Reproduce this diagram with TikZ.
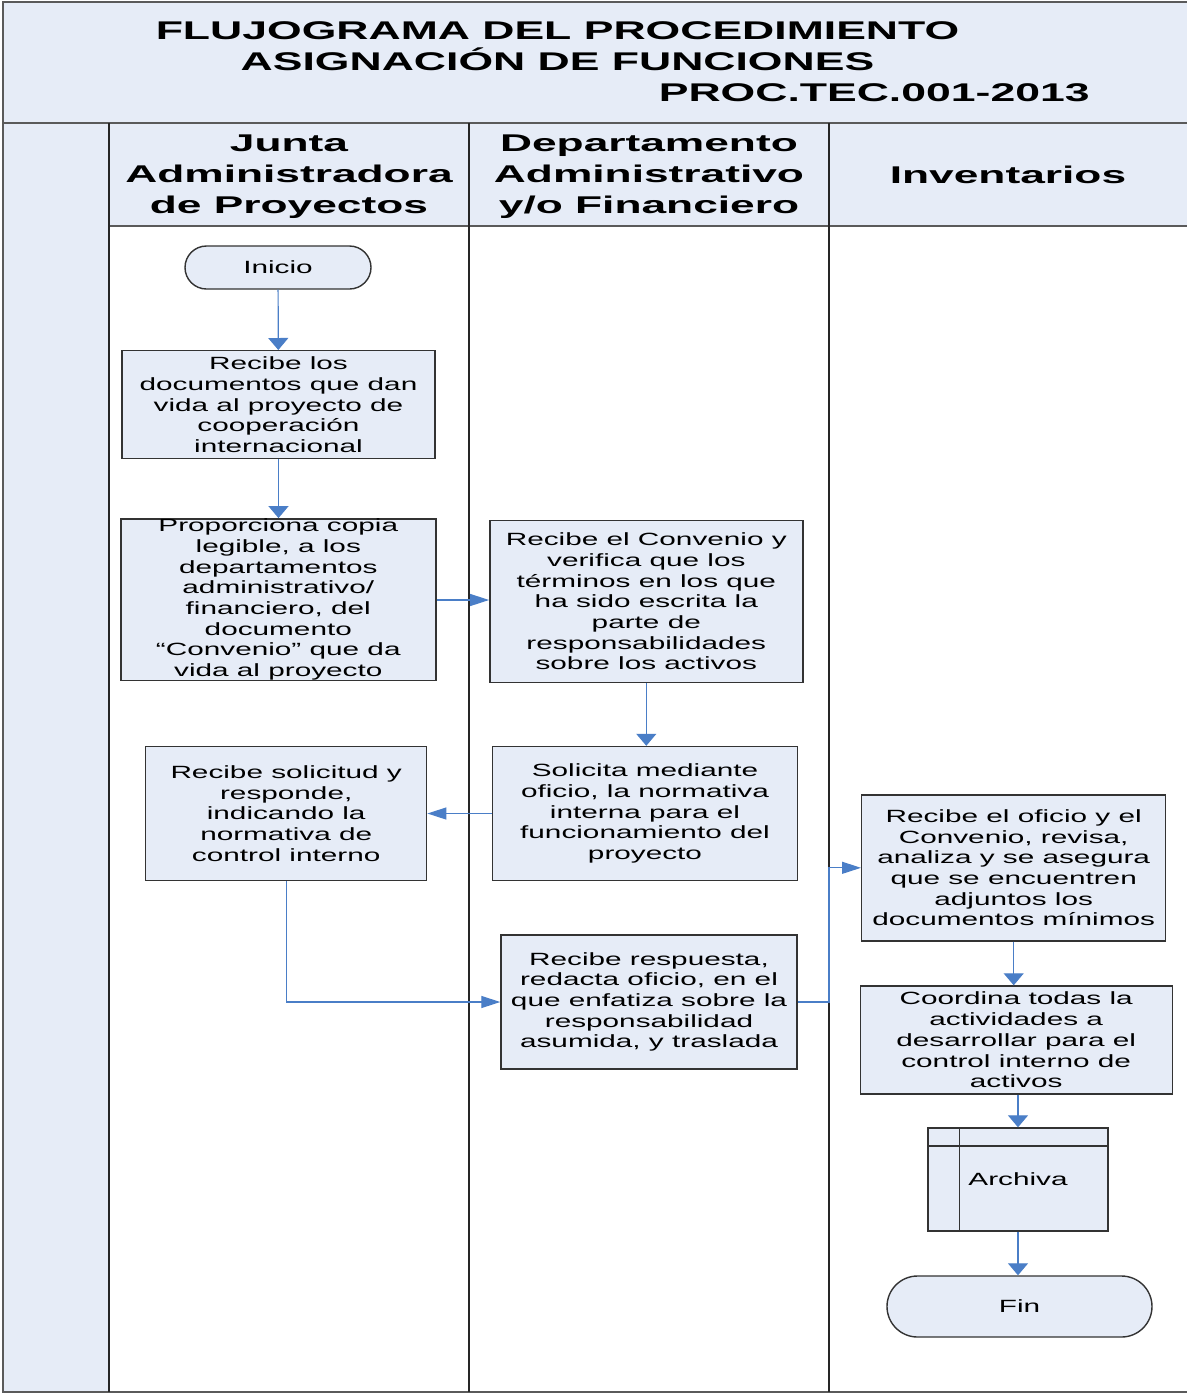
\documentclass[tikz,border=0pt]{standalone}
\usepackage{fontspec}
\setmainfont{Liberation Sans}[FakeStretch=1.68]
\newfontfamily\lanefont{Liberation Sans}[FakeStretch=1.83]
\newfontfamily\bannerfont{Liberation Sans}[FakeStretch=1.74]
\usetikzlibrary{arrows.meta,shapes.misc}
\definecolor{paneblue}{RGB}{230,236,247}
\definecolor{flowblue}{RGB}{74,126,199}
\definecolor{edgegray}{RGB}{51,51,51}
\definecolor{framegray}{RGB}{90,90,90}
\begin{document}
\begin{tikzpicture}[x=0.5pt,y=-0.5pt,
  sz/.style 2 args={minimum width=#1*0.5pt,minimum height=#2*0.5pt},
  task/.style={draw=edgegray,line width=0.7pt,fill=paneblue,inner sep=0pt,align=center,
    font=\fontsize{8.85pt}{10.35pt}\selectfont},
  terminal/.style={task,rounded rectangle},
  lanehead/.style={align=center,inner sep=0pt,font=\lanefont\bfseries\fontsize{12.1pt}{15.5pt}\selectfont},
  banner/.style={inner sep=0pt,font=\bannerfont\bfseries\fontsize{12.8pt}{15.5pt}\selectfont},
  flowv/.style={draw=flowblue,line width=0.6pt,-{Triangle[length=6pt,width=10pt]}},
  flowh/.style={draw=flowblue,line width=0.6pt,-{Triangle[length=9.5pt,width=6pt]}},
]
\useasboundingbox (0,0) rectangle (1187,1393);

% panes
\fill[paneblue] (3,2) rectangle (1187,226);
\fill[paneblue] (3,226) rectangle (109,1392);
\fill[white] (109,226) rectangle (1187,1392);

% frame and lane rules
\draw[framegray,line width=1pt] (1187,2) -- (3,2) -- (3,1392) -- (1187,1392);
\draw[framegray,line width=1.3pt] (3,123) -- (1187,123);
\draw[framegray,line width=0.6pt] (109,226) -- (1187,226);
\foreach \lx in {109,469,829}
  \draw[black!85,line width=1pt] (\lx,123) -- (\lx,1392);

% banner
\node[banner,anchor=base] (title1) at (557.5,39) {FLUJOGRAMA DEL PROCEDIMIENTO};
\node[banner,anchor=base] (title2) at (557.5,70) {ASIGNACIÓN DE FUNCIONES};
\node[banner,anchor=base east] (title3) at (1090,101) {PROC.TEC.001-2013};

% lane headers
\node[lanehead] (laneA) at (289,176.5) {Junta\\Administradora\\de Proyectos};
\node[lanehead] (laneB) at (649,176.5) {Departamento\\Administrativo\\y/o Financiero};
\node[lanehead] (laneC) at (1008,175) {Inventarios};

% steps
\node[terminal,sz={186}{43}] (inicio) at (278,267.5) {Inicio};
\node[task,sz={313}{108}] (recibe) at (278.5,404.7)
  {Recibe los\\documentos que dan\\vida al proyecto de\\cooperación\\internacional};
\node[task,sz={315}{159}] (copia) at (278.3,599.5)
  {Proporciona copia\\legible, a los\\departamentos\\administrativo/\\financiero, del\\documento\\“Convenio” que da\\vida al proyecto};
\node[task,sz={313}{162}] (verifica) at (646.3,601.5)
  {Recibe el Convenio y\\verifica que los\\términos en los que\\ha sido escrita la\\parte de\\responsabilidades\\sobre los activos};
\node[task,sz={305}{134}] (solicita) at (645,813.5)
  {Solicita mediante\\oficio, la normativa\\interna para el\\funcionamiento del\\proyecto};
\node[task,sz={281}{134}] (responde) at (286.2,813.5)
  {Recibe solicitud y\\responde,\\indicando la\\normativa de\\control interno};
\node[task,sz={296}{134}] (traslada) at (649,1002)
  {Recibe respuesta,\\redacta oficio, en el\\que enfatiza sobre la\\responsabilidad\\asumida, y traslada};
\node[task,sz={304}{146}] (revisa) at (1013.7,867.8)
  {Recibe el oficio y el\\Convenio, revisa,\\analiza y se asegura\\que se encuentren\\adjuntos los\\documentos mínimos};
\node[task,sz={312}{108}] (coordina) at (1016.2,1040)
  {Coordina todas la\\actividades a\\desarrollar para el\\control interno de\\activos};
\node[task,sz={180}{103}] (archiva) at (1018,1179.5) {Archiva};
\draw[edgegray,line width=0.7pt]
  ([xshift=16pt]archiva.north west) -- ([xshift=16pt]archiva.south west)
  ([yshift=-9.35pt]archiva.north west) -- ([yshift=-9.35pt]archiva.north east);
\node[terminal,sz={265}{61}] (fin) at (1019.5,1306.5) {Fin};

% connectors
\coordinate (bend) at (829,1002);
\draw[flowv] (inicio) -- (recibe);
\draw[flowv] (recibe) -- (copia.north -| recibe.south);
\draw[flowh] (copia.east |- 0,600) -- (verifica.west |- 0,600);
\draw[flowv] (verifica.south) -- (verifica.south |- solicita.north);
\draw[flowh] (solicita.west) -- (responde.east);
\draw[flowh] (responde.south) |- (traslada.west);
\draw[flowh] (traslada.east) -- (bend) |- (revisa.west);
\draw[flowv] (revisa.south) -- (revisa.south |- coordina.north);
\draw[flowv] (coordina.south -| archiva.north) -- (archiva.north);
\draw[flowv] (archiva.south) -- (archiva.south |- fin.north);
\end{tikzpicture}
\end{document}
